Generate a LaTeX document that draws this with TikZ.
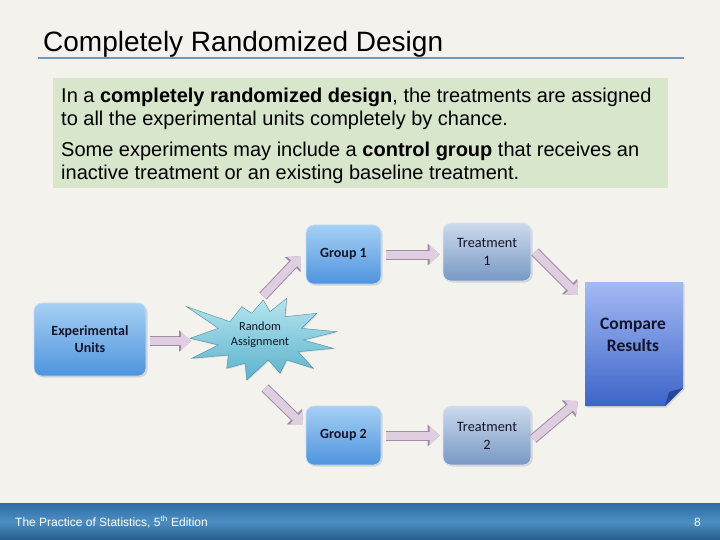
\documentclass[tikz,border=0pt]{standalone}
\usepackage{fontspec}
\setmainfont{Liberation Sans}
\newfontfamily\calfont{Carlito}
\usetikzlibrary{arrows.meta,shadows,calc}
\definecolor{bgc}{RGB}{244,242,237}
\definecolor{rulec}{RGB}{111,152,192}
\definecolor{greenc}{RGB}{216,230,204}
\definecolor{foot1}{RGB}{46,108,164}
\definecolor{foot2}{RGB}{76,142,196}
\definecolor{bluetop}{RGB}{166,208,244}
\definecolor{bluebot}{RGB}{78,148,222}
\definecolor{steeltop}{RGB}{204,218,236}
\definecolor{steelbot}{RGB}{120,152,196}
\definecolor{cmptop}{RGB}{164,186,244}
\definecolor{cmpbot}{RGB}{60,100,200}
\definecolor{foldc}{RGB}{40,70,150}
\definecolor{burstc}{RGB}{150,218,232}
\definecolor{burstd}{RGB}{90,178,204}
\definecolor{arrin}{RGB}{222,206,224}
\definecolor{arrout}{RGB}{160,140,166}
\definecolor{boxtext}{RGB}{20,20,40}
\tikzset{
  roundbox/.style={rounded corners=8pt, align=center, text=boxtext,
    font=\calfont\bfseries\fontsize{14}{17}\selectfont,
    drop shadow={opacity=0.25, shadow xshift=1.5pt, shadow yshift=-1.5pt}},
  bluebox/.style={roundbox, top color=bluetop, bottom color=bluebot, draw=bluetop!70!white, line width=0.6pt},
  steelbox/.style={roundbox, top color=steeltop, bottom color=steelbot, draw=steeltop!70!white, line width=0.6pt,
    font=\calfont\fontsize{14.3}{18}\selectfont},
  barrow/.style={draw=arrin, line width=8pt, -{Triangle[width=18pt,length=10pt]},
    preaction={draw=arrout, line width=10pt, -{Triangle[width=21pt,length=12pt]}}},
  bodytext/.style={anchor=base west, inner sep=0pt, font=\fontsize{20}{24}\selectfont},
}
\begin{document}
\begin{tikzpicture}[x=1pt,y=-1pt]
\useasboundingbox (0,0) rectangle (720,540);
\fill[bgc] (0,0) rectangle (720,540);
% footer
\shade[top color=foot1, bottom color=foot1!85!black, middle color=foot2] (0,503) rectangle (720,540);
\node[anchor=base west, inner sep=0pt, text=white, font=\fontsize{12}{14}\selectfont] (foot) at (15,526) {The Practice of Statistics, 5\textsuperscript{th} Edition};
\node[anchor=base east, inner sep=0pt, text=white, font=\fontsize{12}{14}\selectfont] (page) at (701,526) {8};
% title
\node[anchor=base west, inner sep=0pt, font=\fontsize{28}{32}\selectfont] (title) at (43,52) {Completely Randomized Design};
\draw[rulec, line width=1.8pt] (38,58) -- (684,58);
% green box
\fill[greenc] (53,78) rectangle (668,188);
\node[bodytext] (l1) at (61,103) {In a \textbf{completely randomized design}, the treatments are assigned};
\node[bodytext] (l2) at (61,126) {to all the experimental units completely by chance.};
\node[bodytext] (l3) at (61,157) {Some experiments may include a \textbf{control group} that receives an};
\node[bodytext] (l4) at (61,180) {inactive treatment or an existing baseline treatment.};
% boxes
\node[bluebox, minimum width=112pt, minimum height=73pt] (eu) at (90,339.5) {Experimental\\Units};
\node[bluebox, minimum width=75pt, minimum height=59pt] (g1) at (343.5,254.5) {Group 1};
\node[bluebox, minimum width=75pt, minimum height=59pt] (g2) at (343.5,435.5) {Group 2};
\node[steelbox, minimum width=88pt, minimum height=58pt] (t1) at (487,252) {Treatment\\1};
\node[steelbox, minimum width=88pt, minimum height=59pt] (t2) at (487,435.5) {Treatment\\2};
% compare results
\shade[top color=cmptop, bottom color=cmpbot, drop shadow={opacity=0.25, shadow xshift=1.5pt, shadow yshift=-1.5pt}]
  (585,282) -- (683,282) -- (683,388) -- (665,406) -- (585,406) -- cycle;
\fill[foldc] (683,388) -- (665,406) -- (669,392) -- cycle;
\node[align=center, text=boxtext, font=\calfont\bfseries\fontsize{17.5}{22}\selectfont] (cr) at (633,335) {Compare\\Results};
% starburst
\shade[top color=burstc!70!white, bottom color=burstd, draw=burstd!80!black, line width=0.4pt,
  drop shadow={opacity=0.2, shadow xshift=1pt, shadow yshift=-1pt}]
  (186.7,306.7) -- (230,321.7) -- (241.7,306.7) -- (251.7,313.3) -- (263.3,300) -- (270,311.7)
  -- (286.7,298.3) -- (285,316.7) -- (316.7,313.3) -- (301.7,328.3) -- (336.7,331.7)
  -- (303.3,340) -- (333.3,348.3) -- (298.3,351.7) -- (313.3,368.3) -- (286.7,360)
  -- (280,373.3) -- (268.3,360) -- (246.7,380) -- (245,363.3) -- (226.7,368.3)
  -- (228.3,355) -- (191.7,358.3) -- (218.3,345) -- (190,338.3) -- (218.3,328.3) -- cycle;
\node[align=center, text=boxtext, font=\calfont\fontsize{12.3}{15}\selectfont] (rnd) at (260,335) {Random\\Assignment};
% arrow end coordinates
\coordinate (rndW) at (191,341);
\coordinate (rndN) at (263,296);
\coordinate (rndS) at (265,388);
\coordinate (g1in) at (301,256);
\coordinate (g2in) at (303,425);
\coordinate (crN) at (578,295);
\coordinate (crS) at (578,401);
\coordinate (t1out) at (535,252);
\coordinate (t2out) at (533,439);
% arrows
\draw[barrow, shorten <=4pt] (eu.east |- rndW) -- (rndW);
\draw[barrow] (rndN) -- (g1in);
\draw[barrow] (rndS) -- (g2in);
\draw[barrow, shorten <=5pt, shorten >=3pt] (g1.east) -- (t1.west |- g1.east);
\draw[barrow, shorten <=5pt, shorten >=3pt] (g2.east) -- (t2.west |- g2.east);
\draw[barrow] (t1out) -- (crN);
\draw[barrow] (t2out) -- (crS);
\end{tikzpicture}
\end{document}
